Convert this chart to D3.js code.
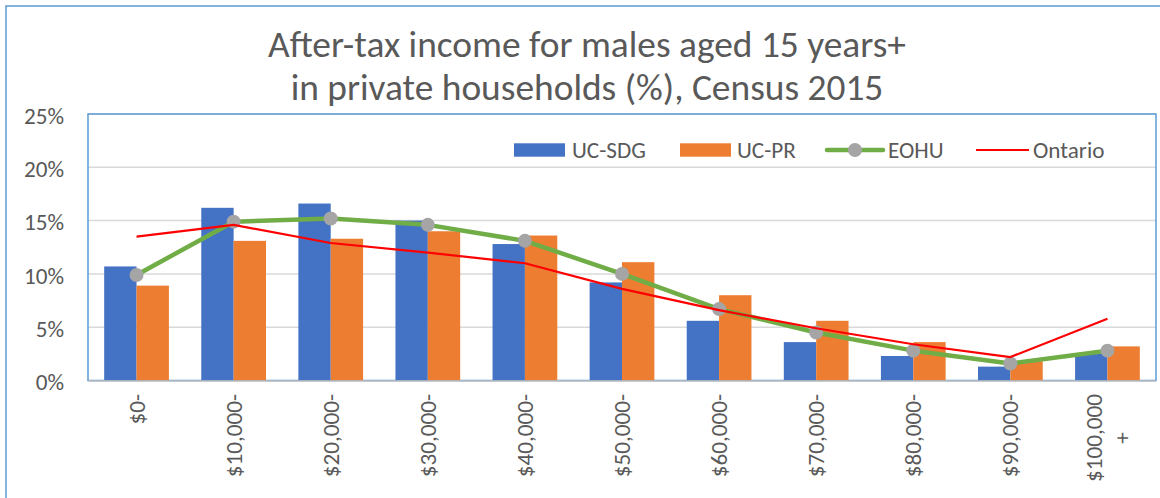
<!DOCTYPE html>
<html>
<head>
<meta charset="utf-8">
<script src="https://cdn.jsdelivr.net/npm/d3@7"></script>
<style>
  html, body { margin: 0; padding: 0; background: #ffffff; }
  svg { display: block; }
</style>
</head>
<body>
<svg id="chart" width="1160" height="498"></svg>
<script>
// ---------- data ----------
const categories = ["$0-", "$10,000-", "$20,000-", "$30,000-", "$40,000-", "$50,000-",
                    "$60,000-", "$70,000-", "$80,000-", "$90,000-", "$100,000+"];
const seriesNames = ["UC-SDG", "UC-PR", "EOHU", "Ontario"];
const ucSdg   = [10.7, 16.2, 16.6, 15.0, 12.8, 9.2, 5.6, 3.6, 2.3, 1.3, 2.5];
const ucPr    = [8.9, 13.1, 13.3, 14.0, 13.6, 11.1, 8.0, 5.6, 3.6, 1.8, 3.2];
const eohu    = [9.9, 14.9, 15.2, 14.6, 13.1, 10.0, 6.7, 4.5, 2.8, 1.6, 2.8];
const ontario = [13.5, 14.6, 12.9, 12.0, 11.0, 8.6, 6.6, 4.9, 3.4, 2.2, 5.8];
const yTicks  = [0, 5, 10, 15, 20, 25];
const titleLines = ["After-tax income for males aged 15 years+", "in private households (%), Census 2015"];

// ---------- styles ----------
const FONT = "Carlito, Calibri, Lato, 'Open Sans', sans-serif";
const TEXT = "#595959";
const BLUE = "#4472C4", ORANGE = "#ED7D31", GREEN = "#70AD47", GREY = "#A5A5A5", RED = "#FF0000";
const BORDER = "#5B9BD5", GRID = "#D9D9D9";

const svg = d3.select("#chart");
const plot = { left: 88, right: 1156, top: 114, bottom: 380.5 };

// text fitting helper
function measure(txt, size) {
  const t = svg.append("text").attr("font-family", FONT).attr("font-size", size).text(txt);
  const w = t.node().getComputedTextLength();
  t.remove();
  return w;
}
const labelSize = 23 * 88 / measure("$100,000", 23);
const titleSize = 37 * 638 / measure(titleLines[0], 37);

// ---------- outer border ----------
svg.append("rect").attr("x", 6).attr("y", 6).attr("width", 1170).attr("height", 510)
  .attr("fill", "none").attr("stroke", BORDER).attr("stroke-width", 1.5);

// ---------- title ----------
svg.append("g").selectAll("text").data(titleLines).join("text")
  .attr("x", 587).attr("y", (d, i) => 57 + i * 43)
  .attr("text-anchor", "middle")
  .attr("font-family", FONT).attr("font-size", titleSize).attr("fill", TEXT)
  .text(d => d);

// ---------- scales ----------
const x = d3.scaleBand().domain(categories).range([plot.left, plot.right])
  .paddingInner(1 / 3).paddingOuter(1 / 6);
const xs = d3.scaleBand().domain(["UC-SDG", "UC-PR"]).range([0, x.bandwidth()]);
const y = d3.scaleLinear().domain([0, 25]).range([plot.bottom, plot.top]);

// ---------- gridlines ----------
svg.append("g").selectAll("line").data(yTicks.slice(1)).join("line")
  .attr("x1", plot.left).attr("x2", plot.right)
  .attr("y1", d => y(d)).attr("y2", d => y(d))
  .attr("stroke", GRID).attr("stroke-width", 1.5);

// plot border
svg.append("rect").attr("x", plot.left).attr("y", plot.top)
  .attr("width", plot.right - plot.left).attr("height", plot.bottom - plot.top)
  .attr("fill", "none").attr("stroke", BORDER).attr("stroke-width", 1.5);

// ---------- y axis labels ----------
const yAxis = svg.append("g").attr("transform", `translate(${plot.left},0)`)
  .call(d3.axisLeft(y).tickValues(yTicks).tickSize(0).tickPadding(24).tickFormat(d => d + "%"));
yAxis.select(".domain").remove();
yAxis.selectAll("text").attr("font-family", FONT).attr("font-size", labelSize)
  .attr("fill", TEXT).attr("dy", "0.4em");

// ---------- bars ----------
const barSeries = [{ name: "UC-SDG", values: ucSdg, color: BLUE }, { name: "UC-PR", values: ucPr, color: ORANGE }];
barSeries.forEach(s => {
  svg.append("g").selectAll("rect").data(s.values).join("rect")
    .attr("x", (d, i) => x(categories[i]) + xs(s.name))
    .attr("width", xs.bandwidth())
    .attr("y", d => y(d))
    .attr("height", d => y(0) - y(d))
    .attr("fill", s.color);
});

// x axis line
svg.append("line").attr("x1", plot.left).attr("x2", plot.right)
  .attr("y1", plot.bottom + 0.5).attr("y2", plot.bottom + 0.5)
  .attr("stroke", "#BFBFBF").attr("stroke-width", 1.5);

// ---------- lines ----------
const cx = i => x(categories[i]) + x.bandwidth() / 2;
const lineGen = d3.line().x((d, i) => cx(i)).y(d => y(d)).curve(d3.curveLinear);

svg.append("path").datum(eohu).attr("d", lineGen)
  .attr("fill", "none").attr("stroke", GREEN).attr("stroke-width", 4.5)
  .attr("stroke-linejoin", "round").attr("stroke-linecap", "round");
svg.append("g").selectAll("circle").data(eohu).join("circle")
  .attr("cx", (d, i) => cx(i)).attr("cy", d => y(d)).attr("r", 7).attr("fill", GREY);

svg.append("path").datum(ontario).attr("d", lineGen)
  .attr("fill", "none").attr("stroke", RED).attr("stroke-width", 2.2)
  .attr("stroke-linejoin", "round");

// ---------- x labels ----------
const xTop = 394, lineH = 28;
const xl = svg.append("g");
categories.forEach((c, i) => {
  const lines = c.endsWith("+") && c.length > 8 ? [c.slice(0, -1), "+"] : [c];
  const g = xl.append("g").attr("transform", `translate(${cx(i)},0) rotate(-90)`);
  const maxLen = d3.max(lines, l => measure(l, labelSize));
  lines.forEach((l, k) => {
    g.append("text")
      .attr("x", -(xTop + maxLen / 2))
      .attr("y", (k - (lines.length - 1) / 2) * lineH)
      .attr("dy", "0.35em")
      .attr("text-anchor", "middle")
      .attr("font-family", FONT).attr("font-size", labelSize).attr("fill", TEXT)
      .text(l);
  });
});

// ---------- legend ----------
const legendY = 150;
const legendX = [514, 680, 827, 976];
const lg = svg.append("g");
[0, 1].forEach(k => {
  lg.append("rect").attr("x", legendX[k]).attr("y", legendY - 6.7).attr("width", 51).attr("height", 13.4)
    .attr("fill", k === 0 ? BLUE : ORANGE);
});
lg.append("line").attr("x1", legendX[2]).attr("x2", legendX[2] + 56).attr("y1", legendY).attr("y2", legendY)
  .attr("stroke", GREEN).attr("stroke-width", 4.5).attr("stroke-linecap", "round");
lg.append("circle").attr("cx", legendX[2] + 28).attr("cy", legendY).attr("r", 7).attr("fill", GREY);
lg.append("line").attr("x1", legendX[3]).attr("x2", legendX[3] + 53).attr("y1", legendY).attr("y2", legendY)
  .attr("stroke", RED).attr("stroke-width", 2.2);
const textOffsets = [58, 57, 61, 57];
lg.selectAll("text.lab").data(seriesNames).join("text").attr("class", "lab")
  .attr("x", (d, i) => legendX[i] + textOffsets[i]).attr("y", legendY).attr("dy", "0.35em")
  .attr("font-family", FONT).attr("font-size", labelSize).attr("fill", TEXT)
  .text(d => d);
</script>
</body>
</html>
